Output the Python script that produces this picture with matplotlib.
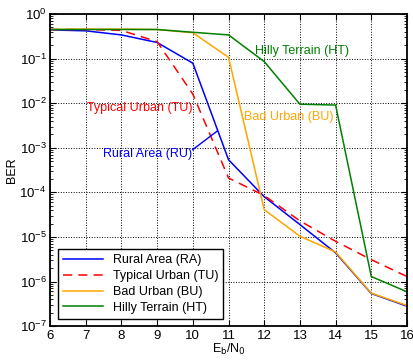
import matplotlib
matplotlib.use("Agg")
import matplotlib.pyplot as plt
from matplotlib.ticker import LogLocator, NullFormatter

# Eb/N0 in dB
snr = [6, 7, 8, 9, 10, 11, 12, 13, 14, 15, 16]

# BER per channel model
ber_ra = [0.44, 0.42, 0.34, 0.23, 0.079, 5.4e-4, 8.0e-5, 1.9e-5, 4.4e-6, 5.4e-7, 2.8e-7]
ber_tu = [0.45, 0.45, 0.43, 0.24, 0.016, 2.1e-4, 8.5e-5, 2.3e-5, 8.0e-6, 3.1e-6, 1.3e-6]
ber_bu = [0.45, 0.46, 0.46, 0.45, 0.38, 0.107, 4.1e-5, 1.04e-5, 4.6e-6, 5.5e-7, 2.9e-7]
ber_ht = [0.45, 0.45, 0.45, 0.45, 0.39, 0.34, 0.086, 9.5e-3, 9.1e-3, 1.3e-6, 5.9e-7]

names = ["Rural Area (RA)", "Typical Urban (TU)", "Bad Urban (BU)", "Hilly Terrain (HT)"]
decades = [1e-7, 1e-6, 1e-5, 1e-4, 1e-3, 1e-2, 1e-1, 1]

plt.rcParams['font.family'] = ['Liberation Sans', 'DejaVu Sans']
plt.rcParams['font.size'] = 9

fig = plt.figure(figsize=(4.14, 3.6), dpi=100)
ax = fig.add_axes([0.121, 0.094, 0.862, 0.867])

ax.semilogy(snr, ber_ra, color='#0000ff', lw=1.1, label=names[0])
ax.semilogy(snr, ber_tu, color='#ff0000', lw=1.1, ls=(0, (6, 4)), label=names[1])
ax.semilogy(snr, ber_bu, color='#ffa500', lw=1.1, label=names[2])
ax.semilogy(snr, ber_ht, color='#008000', lw=1.1, label=names[3])

ax.set_xlim(6, 16)
ax.set_ylim(1e-7, 1)
ax.set_xticks(snr)
ax.set_yticks(decades)
ax.yaxis.set_minor_locator(LogLocator(base=10, subs=range(2, 10), numticks=100))
ax.yaxis.set_minor_formatter(NullFormatter())
ax.tick_params(which='both', direction='in', top=True, right=True)
ax.tick_params(which='major', length=4, labelsize=9.5, pad=2.5)
ax.tick_params(which='minor', length=2)
ax.grid(True, which='major', color='black', ls=':', lw=0.7)
for s in ax.spines.values():
    s.set_linewidth(1.3)

ax.set_xlabel(r"E$_\mathrm{b}$/N$_0$", labelpad=0)
ax.set_ylabel("BER", labelpad=1)

# curve labels
ax.text(13.05, 0.15, "Hilly Terrain (HT)", color='#008000', ha='center', va='center')
ax.text(12.7, 0.005, "Bad Urban (BU)", color='#ffa500', ha='center', va='center')
ax.text(8.5, 0.0078, "Typical Urban (TU)", color='#ff0000', ha='center', va='center')
ax.text(9.99, 7.4e-4, "Rural Area (RU)", color='#0000ff', ha='right', va='center')
ax.annotate("", xy=(10.69, 2.4e-3), xytext=(9.99, 9e-4),
            arrowprops=dict(arrowstyle='-', color='#0000ff', lw=1.0,
                            shrinkA=0, shrinkB=0))

leg = ax.legend(loc='lower left', fancybox=False, edgecolor='black',
                framealpha=1, borderaxespad=0.6, handlelength=3.2,
                labelspacing=0.3)
leg.get_frame().set_linewidth(1.0)

fig.savefig("out.png", dpi=100)
